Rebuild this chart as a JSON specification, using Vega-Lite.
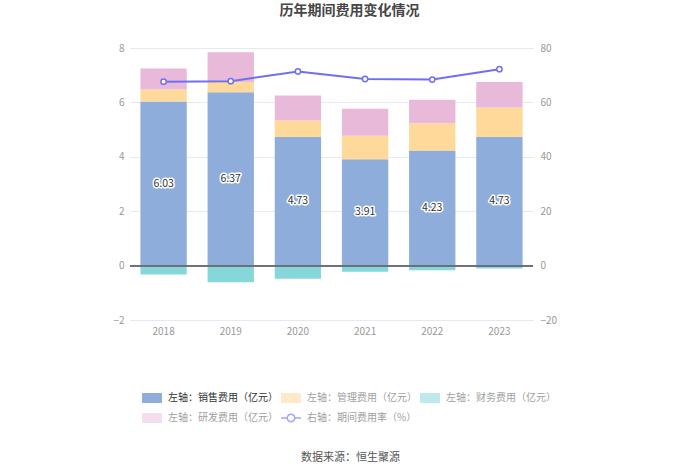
{
  "$schema": "https://vega.github.io/schema/vega-lite/v6.json",
  "autosize": {"type": "none"},
  "width": 403,
  "height": 272,
  "padding": {"left": 130, "top": 48, "right": 167, "bottom": 154},
  "background": "white",
  "config": {
    "font": "Noto Sans CJK SC",
    "view": {"stroke": null},
    "axis": {"labelColor": "#999999", "labelFontSize": 10, "domain": false, "ticks": false}
  },
  "title": {
    "text": "历年期间费用变化情况",
    "fontSize": 14,
    "fontWeight": "bold",
    "color": "#464646",
    "anchor": "middle",
    "dx": 18,
    "offset": 25
  },
  "datasets": {
    "bars": [
      {"year": "2018", "type": "左轴：销售费用（亿元）", "value": 6.03},
      {"year": "2018", "type": "左轴：管理费用（亿元）", "value": 0.44},
      {"year": "2018", "type": "左轴：财务费用（亿元）", "value": -0.33},
      {"year": "2018", "type": "左轴：研发费用（亿元）", "value": 0.78},
      {"year": "2019", "type": "左轴：销售费用（亿元）", "value": 6.37},
      {"year": "2019", "type": "左轴：管理费用（亿元）", "value": 0.38},
      {"year": "2019", "type": "左轴：财务费用（亿元）", "value": -0.61},
      {"year": "2019", "type": "左轴：研发费用（亿元）", "value": 1.09},
      {"year": "2020", "type": "左轴：销售费用（亿元）", "value": 4.73},
      {"year": "2020", "type": "左轴：管理费用（亿元）", "value": 0.6},
      {"year": "2020", "type": "左轴：财务费用（亿元）", "value": -0.48},
      {"year": "2020", "type": "左轴：研发费用（亿元）", "value": 0.92},
      {"year": "2021", "type": "左轴：销售费用（亿元）", "value": 3.91},
      {"year": "2021", "type": "左轴：管理费用（亿元）", "value": 0.86},
      {"year": "2021", "type": "左轴：财务费用（亿元）", "value": -0.23},
      {"year": "2021", "type": "左轴：研发费用（亿元）", "value": 1.0},
      {"year": "2022", "type": "左轴：销售费用（亿元）", "value": 4.23},
      {"year": "2022", "type": "左轴：管理费用（亿元）", "value": 1.0},
      {"year": "2022", "type": "左轴：财务费用（亿元）", "value": -0.17},
      {"year": "2022", "type": "左轴：研发费用（亿元）", "value": 0.87},
      {"year": "2023", "type": "左轴：销售费用（亿元）", "value": 4.73},
      {"year": "2023", "type": "左轴：管理费用（亿元）", "value": 1.08},
      {"year": "2023", "type": "左轴：财务费用（亿元）", "value": -0.11},
      {"year": "2023", "type": "左轴：研发费用（亿元）", "value": 0.94}
    ],
    "rate": [
      {"year": "2018", "rate": 67.6},
      {"year": "2019", "rate": 67.8},
      {"year": "2020", "rate": 71.4},
      {"year": "2021", "rate": 68.6},
      {"year": "2022", "rate": 68.4},
      {"year": "2023", "rate": 72.2}
    ]
  },
  "encoding": {
    "x": {
      "field": "year",
      "type": "ordinal",
      "scale": {"paddingInner": 0.31, "paddingOuter": 0.155},
      "axis": {
        "labelAngle": 0,
        "labelPadding": 6,
        "title": "数据来源：恒生聚源",
        "titleFontSize": 11,
        "titleFontWeight": "normal",
        "titleColor": "#555555",
        "titleX": 220,
        "titleY": 137,
        "titleAlign": "center",
        "titleBaseline": "middle"
      }
    }
  },
  "layer": [
    {
      "data": {"name": "bars"},
      "transform": [
        {"calculate": "indexof(['左轴：销售费用（亿元）','左轴：管理费用（亿元）','左轴：研发费用（亿元）','左轴：财务费用（亿元）'], datum.type)", "as": "ord"}
      ],
      "layer": [
        {
          "mark": {"type": "bar"},
          "encoding": {
            "y": {
              "field": "value",
              "type": "quantitative",
              "stack": "zero",
              "title": null,
              "scale": {"domain": [-2, 8]},
              "axis": {"values": [-2, 0, 2, 4, 6, 8], "grid": true, "gridColor": "#E6E9F1", "labelPadding": 6, "orient": "left"}
            },
            "order": {"field": "ord"},
            "color": {
              "field": "type",
              "type": "nominal",
              "scale": {
                "domain": ["左轴：销售费用（亿元）", "左轴：管理费用（亿元）", "左轴：财务费用（亿元）", "左轴：研发费用（亿元）"],
                "range": ["#8EADDB", "#FFD99A", "#86D7DA", "#E8B9D9"]
              },
              "legend": null
            }
          }
        },
        {
          "mark": {"type": "text", "text": ""},
          "encoding": {
            "fill": {
              "field": "type",
              "type": "nominal",
              "scale": {
                "domain": ["左轴：销售费用（亿元）", "左轴：管理费用（亿元）", "左轴：财务费用（亿元）", "左轴：研发费用（亿元）", "右轴：期间费用率（%）"],
                "range": ["#8EADDB", "#FFE9C9", "#BFEAEC", "#F3DDEE", "#A4A5F8"]
              },
              "legend": {
                "title": null,
                "orient": "none",
                "legendX": 11,
                "legendY": 339,
                "direction": "horizontal",
                "columns": 3,
                "columnPadding": 2,
                "rowPadding": 4,
                "symbolSize": 400,
                "labelFontSize": 10,
                "labelOffset": 5,
                "labelLimit": 200,
                "encode": {
                  "symbols": {
                    "update": {
                      "shape": {"signal": "datum.value == '右轴：期间费用率（%）' ? 'M-1,-0.075H-0.44V0.075H-1ZM0.44,-0.075H1V0.075H0.44ZM0.45,0A0.45,0.45,0,1,1,-0.45,0A0.45,0.45,0,1,1,0.45,0ZM0.3,0A0.3,0.3,0,1,0,-0.3,0A0.3,0.3,0,1,0,0.3,0Z' : 'M-0.95,-0.5H0.95Q1,-0.5,1,-0.4V0.4Q1,0.5,0.95,0.5H-0.95Q-1,0.5,-1,0.4V-0.4Q-1,-0.5,-0.95,-0.5Z'"}
                    }
                  },
                  "labels": {
                    "update": {
                      "fill": {"signal": "datum.value == '左轴：销售费用（亿元）' ? '#333333' : '#A0A0A0'"}
                    }
                  }
                }
              }
            }
          }
        },
        {
          "mark": {"type": "rule", "color": "#6E7079", "strokeWidth": 1},
          "encoding": {"y": {"datum": 0, "type": "quantitative", "title": null}, "x": {"value": 0}, "x2": {"value": 403}}
        },
        {
          "transform": [
            {"filter": "datum.type == '左轴：销售费用（亿元）'"},
            {"calculate": "datum.value / 2", "as": "mid"}
          ],
          "mark": {"type": "text", "fontSize": 10.5, "stroke": "white", "strokeWidth": 3, "strokeJoin": "round", "fill": "white"},
          "encoding": {
            "y": {"field": "mid", "type": "quantitative", "title": null},
            "text": {"field": "value", "type": "quantitative", "format": ".2f"}
          }
        },
        {
          "transform": [
            {"filter": "datum.type == '左轴：销售费用（亿元）'"},
            {"calculate": "datum.value / 2", "as": "mid"}
          ],
          "mark": {"type": "text", "fontSize": 10.5, "fill": "#333333"},
          "encoding": {
            "y": {"field": "mid", "type": "quantitative", "title": null},
            "text": {"field": "value", "type": "quantitative", "format": ".2f"}
          }
        }
      ]
    },
    {
      "data": {"name": "rate"},
      "encoding": {
        "y": {
          "field": "rate",
          "type": "quantitative",
          "title": null,
          "scale": {"domain": [-20, 80]},
          "axis": {"orient": "right", "values": [-20, 0, 20, 40, 60, 80], "grid": false, "labelPadding": 7}
        }
      },
      "layer": [
        {"mark": {"type": "line", "stroke": "#6E6FF5", "strokeWidth": 2}},
        {"mark": {"type": "point", "shape": "circle", "filled": true, "fill": "#ffffff", "stroke": "#6E6FF5", "strokeWidth": 1.5, "size": 28, "opacity": 1}}
      ]
    }
  ],
  "resolve": {"scale": {"y": "independent"}}
}
